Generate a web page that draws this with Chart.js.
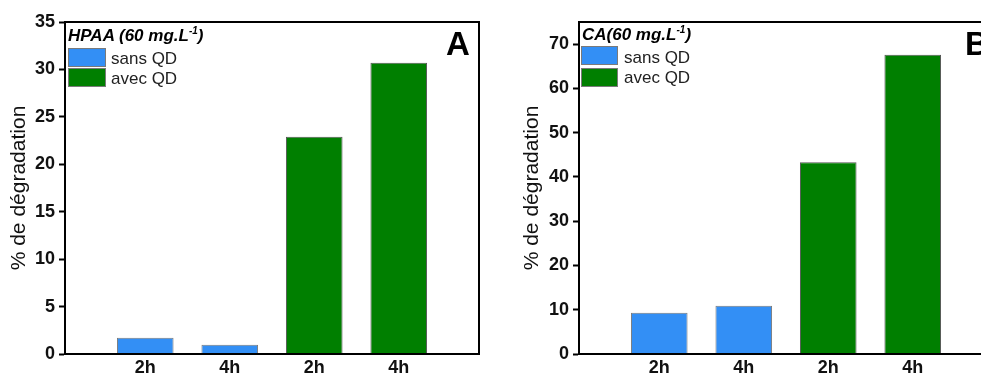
<!DOCTYPE html>
<html>
<head>
<meta charset="utf-8">
<script src="https://cdn.jsdelivr.net/npm/chart.js@4/dist/chart.umd.min.js"></script>
<style>
  html, body { margin: 0; padding: 0; background: #fff; overflow: hidden; }
  #wrap { position: relative; width: 981px; height: 373px; overflow: hidden; font-family: "Liberation Sans", Arial, sans-serif; }
  canvas { position: absolute; top: 0; }
  .lg { position: absolute; white-space: nowrap; color: #000; }
  .lgTitle { font-size: 17px; line-height: 17px; font-weight: bold; font-style: italic; }
  .lgTitle sup { font-size: 10px; line-height: 0; vertical-align: 7px; }
  .lgText { font-size: 17px; line-height: 17px; color: #222; }
  .sw { position: absolute; box-sizing: border-box; border: 1px solid #7a7a7a; }
  .panel { position: absolute; font-size: 33px; line-height: 33px; font-weight: bold; color: #000; }
</style>
</head>
<body>
<div id="wrap">
  <canvas id="cA" width="490" height="390" style="left:0px"></canvas>
  <canvas id="cB" width="515" height="390" style="left:490px"></canvas>
</div>
<script>
// ---- data ----
const xLabels = ['2h', '4h', '2h', '4h'];
const seriesNames = ['sans QD', 'avec QD'];
const seriesColors = ['#338ff5', '#007f00'];

const hpaaSansQD = [1.7, 0.98, null, null];
const hpaaAvecQD = [null, null, 22.9, 30.7];
const caSansQD = [9.3, 10.9, null, null];
const caAvecQD = [null, null, 43.3, 67.6];

const yTicksA = [0, 5, 10, 15, 20, 25, 30, 35];
const yTicksB = [0, 10, 20, 30, 40, 50, 60, 70];
const yMaxA = 35;
const yMaxB = 75;
const yTitle = '% de dégradation';

// ---- helpers ----
const FONT = '"Liberation Sans", Arial, sans-serif';
function toPoints(vals) {
  return vals.map((v, i) => ({ x: i + 1, y: v })).filter(p => p.y !== null);
}

const boxPlugin = {
  id: 'boxPlugin',
  afterDatasetsDraw(chart) {
    const a = chart.chartArea, ctx = chart.ctx;
    ctx.save();
    ctx.strokeStyle = '#000';
    ctx.lineWidth = 2;
    ctx.beginPath();
    ctx.moveTo(a.left, a.bottom);
    ctx.lineTo(a.left, a.top);
    ctx.lineTo(a.right, a.top);
    ctx.lineTo(a.right, a.bottom);
    ctx.lineTo(a.left, a.bottom);
    ctx.stroke();
    ctx.restore();
  }
};

function makeChart(id, sans, avec, yTicks, yMax, padLeft, yWidth, padRight) {
  return new Chart(document.getElementById(id), {
    type: 'bar',
    data: {
      datasets: [
        { label: seriesNames[0], data: toPoints(sans), backgroundColor: seriesColors[0], borderColor: '#7a7a7a', borderWidth: 1, grouped: false, barPercentage: 0.67, categoryPercentage: 1 },
        { label: seriesNames[1], data: toPoints(avec), backgroundColor: seriesColors[1], borderColor: '#555', borderWidth: 1, grouped: false, barPercentage: 0.67, categoryPercentage: 1 }
      ]
    },
    options: {
      responsive: false,
      animation: false,
      layout: { padding: { left: padLeft, top: 22, right: padRight, bottom: 0 } },
      plugins: { legend: { display: false }, tooltip: { enabled: false } },
      scales: {
        x: {
          type: 'linear',
          offset: false,
          min: 0.05,
          max: 4.95,
          afterBuildTicks: s => { s.ticks = xLabels.map((_, i) => ({ value: i + 1 })); },
          afterFit: s => { s.height = 36; },
          grid: { display: false, drawTicks: false, offset: false },
          border: { display: true, color: '#000', width: 2 },
          ticks: {
            padding: 3,
            color: '#111',
            font: { family: FONT, size: 18, weight: 'bold' },
            callback: v => xLabels[v - 1] || ''
          }
        },
        y: {
          min: 0,
          max: yMax,
          afterBuildTicks: s => { s.ticks = yTicks.map(v => ({ value: v })); },
          afterFit: s => { s.width = yWidth; },
          grid: { drawOnChartArea: false, drawTicks: true, tickLength: 6, tickWidth: 2, tickColor: '#000' },
          border: { display: true, color: '#000', width: 2 },
          ticks: { padding: 4, color: '#111', font: { family: FONT, size: 18, weight: 'bold' } },
          title: { display: true, text: yTitle, color: '#111', font: { family: FONT, size: 21 }, padding: { top: 4, bottom: 4 } }
        }
      }
    },
    plugins: [boxPlugin]
  });
}

const chartA = makeChart('cA', hpaaSansQD, hpaaAvecQD, yTicksA, yMaxA, 3, 62, 11);
const chartB = makeChart('cB', caSansQD, caAvecQD, yTicksB, yMaxB, 26, 63, 12);

// ---- in-plot legends (built from the datasets) ----
const wrap = document.getElementById('wrap');
function addEl(cls, html, style) {
  const d = document.createElement('div');
  d.className = cls;
  d.innerHTML = html;
  Object.assign(d.style, style);
  wrap.appendChild(d);
  return d;
}
function buildLegend(chart, titleHtml, pos) {
  addEl('lg lgTitle', titleHtml, { left: pos.tx + 'px', top: pos.ty + 'px' });
  chart.data.datasets.forEach((ds, i) => {
    addEl('sw', '', { left: pos.sx + 'px', top: pos.sy[i] + 'px', width: pos.sw + 'px', height: '19px', background: ds.backgroundColor });
    addEl('lg lgText', ds.label, { left: pos.lx + 'px', top: pos.ly[i] + 'px' });
  });
  addEl('panel', pos.letter, { left: pos.px + 'px', top: '27px' });
}
buildLegend(chartA, 'HPAA (60 mg.L<sup>-1</sup>)', { tx: 68, ty: 27, sx: 68, sy: [48, 68], sw: 38, lx: 111, ly: [50, 70], letter: 'A', px: 446 });
buildLegend(chartB, 'CA(60 mg.L<sup>-1</sup>)', { tx: 582, ty: 26, sx: 581, sy: [46, 68], sw: 37, lx: 624, ly: [49, 69], letter: 'B', px: 965 });
</script>
</body>
</html>
